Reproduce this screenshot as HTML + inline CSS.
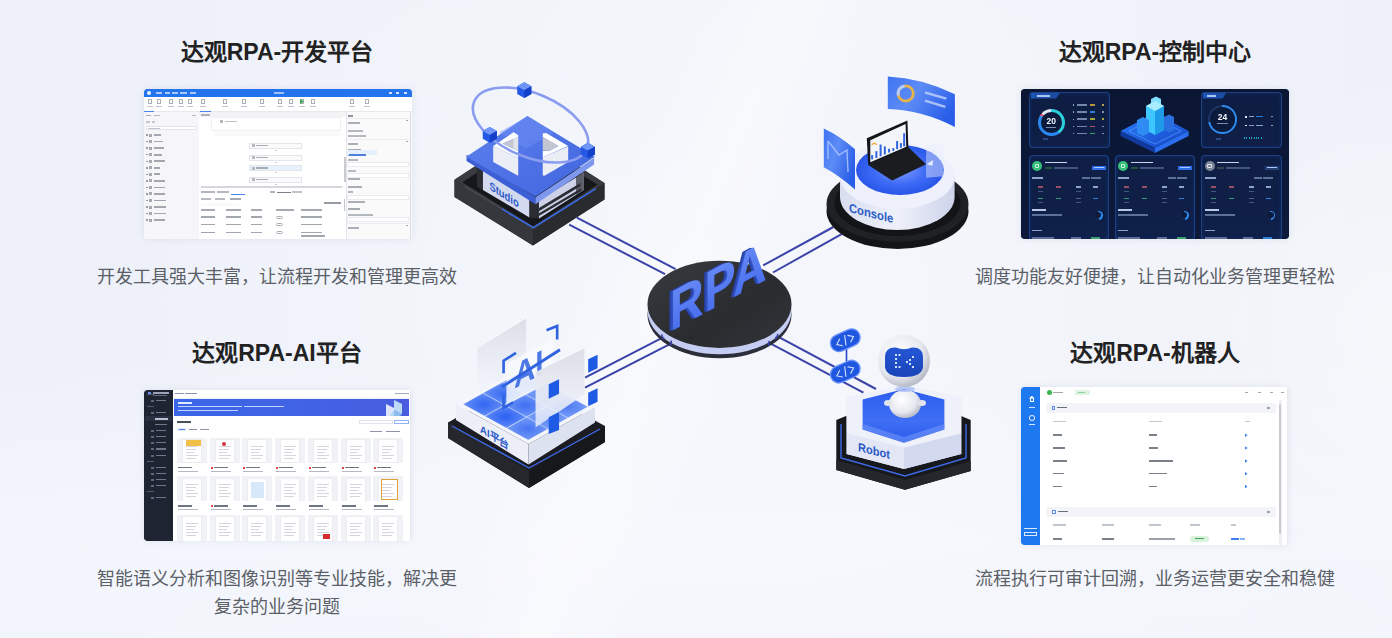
<!DOCTYPE html>
<html lang="zh-CN">
<head>
<meta charset="utf-8">
<style>
*{margin:0;padding:0;box-sizing:border-box}
html,body{width:1392px;height:638px;overflow:hidden}
body{position:relative;font-family:"Liberation Sans",sans-serif;background:#eff2f9}
.bg{position:absolute;left:0;top:0;width:1392px;height:638px;
 background:
  radial-gradient(ellipse 650px 420px at 720px 300px, rgba(255,255,255,0.25), rgba(255,255,255,0) 100%),
  radial-gradient(ellipse 220px 260px at 1392px 330px, rgba(255,255,255,0.45), rgba(255,255,255,0) 100%),
  linear-gradient(112deg, rgba(255,255,255,0) 42%, rgba(255,255,255,0.38) 48%, rgba(255,255,255,0) 54%),
  linear-gradient(180deg, rgba(246,248,254,0) 0%, rgba(246,248,254,0) 55%, rgba(246,248,254,0.7) 85%, rgba(246,248,254,0.6) 100%),
  linear-gradient(90deg,#edf0f8 0%,#f1f4fa 45%,#f2f4fb 70%,#eef1f8 100%)}
.t{position:absolute;font-size:23px;font-weight:900;color:#222;white-space:nowrap;text-align:center;line-height:30px}
.s{position:absolute;font-size:18px;color:#5b5f67;white-space:nowrap;text-align:center;line-height:28px}
.shot{position:absolute;overflow:hidden;box-shadow:0 0 6px rgba(60,80,130,0.10);filter:blur(0.35px)}
.shot i,.shot b{position:absolute;display:block;font-style:normal}
.shot b{font-family:"Liberation Sans",sans-serif;font-weight:bold;line-height:1}
svg{position:absolute;left:0;top:0}
</style>
</head>
<body>
<div class="bg"></div>
<svg width="1392" height="638" viewBox="0 0 1392 638">
<defs>
  <linearGradient id="gDisc" x1="0" y1="0" x2="1" y2="1">
    <stop offset="0" stop-color="#3a3b40"/><stop offset="0.6" stop-color="#2a2b2f"/><stop offset="1" stop-color="#34353a"/>
  </linearGradient>
  <linearGradient id="gRPA" x1="0" y1="0" x2="0" y2="1">
    <stop offset="0" stop-color="#6d8ff8"/><stop offset="1" stop-color="#4068ec"/>
  </linearGradient>
  <linearGradient id="gSlabTop" x1="0" y1="0" x2="1" y2="1">
    <stop offset="0" stop-color="#5f82f0"/><stop offset="1" stop-color="#3f63dc"/>
  </linearGradient>
  <radialGradient id="gPool" cx="0.5" cy="0.5" r="0.5">
    <stop offset="0" stop-color="#7c9cff"/><stop offset="0.6" stop-color="#3d6af5"/><stop offset="1" stop-color="#2a56e8"/>
  </radialGradient>
  <linearGradient id="gCyl" x1="0" y1="0" x2="1" y2="0">
    <stop offset="0" stop-color="#d9def0"/><stop offset="0.5" stop-color="#eef1fa"/><stop offset="1" stop-color="#cdd3ea"/>
  </linearGradient>
  <linearGradient id="gCard" x1="0" y1="0" x2="1" y2="0.6">
    <stop offset="0" stop-color="#3f73f2"/><stop offset="0.45" stop-color="#5d8cf6"/><stop offset="1" stop-color="#2a5ee8"/>
  </linearGradient>
  <radialGradient id="gHead" cx="0.4" cy="0.35" r="0.65">
    <stop offset="0" stop-color="#ffffff"/><stop offset="0.7" stop-color="#e6e8ef"/><stop offset="1" stop-color="#b9bdc9"/>
  </radialGradient>
  <linearGradient id="gPanel" x1="0" y1="0" x2="0" y2="1">
    <stop offset="0" stop-color="#dcdee6" stop-opacity="0.97"/><stop offset="0.6" stop-color="#eaedf5" stop-opacity="0.93"/><stop offset="1" stop-color="#f2f5fc" stop-opacity="0.75"/>
  </linearGradient>
  <radialGradient id="gTile" cx="0.5" cy="0.5" r="0.7">
    <stop offset="0" stop-color="#2a5ff2"/><stop offset="0.6" stop-color="#5683f5"/><stop offset="1" stop-color="#a4bcf8"/>
  </radialGradient>
  <g id="cube">
   <polygon points="-45,-25 0,-50 45,-25 45,25 0,50 -45,25" fill="#2459e6"/>
   <polygon points="-45,-25 0,-50 45,-25 0,0" fill="#6f95f7"/>
   <polygon points="0,0 45,-25 45,25 0,50" fill="#1440c8"/>
  </g>
  <linearGradient id="gHexPool" x1="0" y1="0" x2="0" y2="1">
    <stop offset="0" stop-color="#2c5df0"/><stop offset="0.6" stop-color="#3f6ff5"/><stop offset="1" stop-color="#2a5ae8"/>
  </linearGradient>
  <linearGradient id="gVisor" x1="0" y1="0" x2="0" y2="1">
    <stop offset="0" stop-color="#2456d6"/><stop offset="1" stop-color="#1a45b8"/>
  </linearGradient>
</defs>

<!-- connection lines -->
<g stroke="#3b42a8" stroke-width="2" fill="none">
  <line x1="576.9" y1="217.6" x2="675.7" y2="269.2"/>
  <line x1="569.2" y1="224.7" x2="665.1" y2="274.1"/>
  <line x1="763.2" y1="265.4" x2="833.4" y2="227"/>
  <line x1="773" y1="272.5" x2="841.6" y2="234.1"/>
  <line x1="585" y1="377.7" x2="661.6" y2="338.2"/>
  <line x1="585" y1="387.7" x2="670.3" y2="343.8"/>
  <line x1="777.5" y1="336.3" x2="876" y2="389"/>
  <line x1="768.8" y1="342.6" x2="863.4" y2="392.7"/>
</g>

<!-- ===== RPA disc ===== -->
<g>
  <ellipse cx="719.5" cy="314.7" rx="72" ry="43.6" fill="#2b2d38"/>
  <ellipse cx="719.5" cy="310.7" rx="72" ry="43.6" fill="#c6cdf2"/>
  <ellipse cx="719.5" cy="304.3" rx="72" ry="43.6" fill="url(#gDisc)"/>
  <g stroke="#3b42a8" stroke-width="1.6" fill="none">
    <path d="M661.5,334.5 q1,4 3,4.5"/><path d="M671,340.5 q1,3 -1,5"/>
    <path d="M769.5,341 q-2,3 0,5"/><path d="M778,334 q-1,4 -3,4.5"/>
  </g>
  <g transform="translate(670,332) skewY(-28.5)">
    <g font-family="Liberation Sans" font-weight="bold" font-size="57" letter-spacing="1">
    <text x="-4.5" y="-1.5" fill="#263f9e" transform="scale(0.82,1)">RPA</text>
    <text x="-3.5" y="-1" fill="#2b46ad" transform="scale(0.82,1)">RPA</text>
    <text x="-2" y="-0.5" fill="#3251c0" transform="scale(0.82,1)">RPA</text>
    <text x="0" y="0" fill="url(#gRPA)" transform="scale(0.82,1)">RPA</text>
    </g>
  </g>
</g>

<!-- ===== Studio ===== -->
<g>
 <g transform="translate(445,140) scale(0.172414)">
  <polygon points="55,230 470,-40 925,250 925,345 510,612 55,330" fill="#333439"/>
  <polygon points="55,230 510,520 510,612 55,330" fill="#36373c"/>
  <polygon points="510,520 925,250 925,345 510,612" fill="#2a2b2f"/>
  <polygon points="55,230 470,-40 925,250 510,520" fill="#3a3b40"/>
  <polygon points="100,245 470,8 885,258 512,500" fill="#16171b"/>
  <polyline points="112,268 330,400" stroke="#5a5b62" stroke-width="4" fill="none"/>
  <polyline points="330,400 512,508 875,282" stroke="#3a6cf0" stroke-width="8" fill="none"/>
  <!-- body -->
  <polygon points="185,160 220,175 220,290 185,272" fill="#2b2d33"/>
  <polygon points="220,175 490,340 490,450 220,290" fill="#d3daf0"/>
  <polygon points="490,340 545,350 545,455 490,450" fill="#2a2c31"/>
  <polygon points="545,350 805,190 805,290 545,455" fill="#cdd2e8"/>
  <polygon points="545,395 785,250 785,268 545,413" fill="#2c2e35"/>
  <polygon points="545,425 790,280 790,296 545,441" fill="#2c2e35"/>
  <polygon points="760,215 805,190 805,290 760,318" fill="#2b2d33" opacity="0.7"/>
  <g transform="translate(258,285) skewY(33) scale(0.8,1)"><text x="0" y="0" font-family="Liberation Sans" font-weight="bold" font-size="68" fill="#2c58c8">Studio</text></g>
  <!-- slab -->
  <polygon points="125,85 525,332 525,372 125,122" fill="#3c5fd6"/>
  <polygon points="525,332 865,105 865,142 525,372" fill="#7e98f0"/>
 </g>
 <g transform="translate(460,80) scale(0.156789)">
  <polygon points="430,230 860,490 481,745 40,490" fill="url(#gSlabTop)"/>
  <polygon points="430,230 600,335 420,440 250,335" fill="#6b8df5" opacity="0.5"/>
 </g>
 <g transform="translate(485,125) scale(0.086207)">
  <!-- left block -->
  <polygon points="95,245 385,380 385,590 95,430" fill="#eceef6"/>
  <polygon points="95,245 330,85 385,118 385,135 205,215 290,255 385,298 385,380" fill="#ffffff"/>
  <polygon points="205,215 385,135 385,298 290,255" fill="#c3c5d1"/>
  <polygon points="330,85 385,118 385,300 330,270" fill="#f5f6fa" opacity="0.6"/>
  <!-- right block -->
  <polygon points="670,375 965,250 965,430 690,590 670,585" fill="#eceef6"/>
  <polygon points="670,100 710,92 965,245 670,375 670,300 745,300 850,245 670,140" fill="#ffffff"/>
  <polygon points="670,140 850,242 742,300 670,292" fill="#c3c5d1"/>
 </g>
 <!-- ring -->
 <ellipse cx="530.5" cy="125" rx="61" ry="31.7" transform="rotate(22.7 530.5 125)" fill="none" stroke="#8a9cf0" stroke-width="2.6"/>
 <use href="#cube" transform="translate(524.3,90.2) scale(0.156789)" x="0" y="0"/>
 <use href="#cube" transform="translate(489.8,134.9) scale(0.156789)"/>
 <use href="#cube" transform="translate(587.8,150.6) scale(0.156789)"/>
</g>

<!-- ===== Console ===== -->
<g>
  <ellipse cx="897.5" cy="211" rx="71" ry="38" fill="#141518"/>
  <ellipse cx="897.5" cy="204" rx="71" ry="38" fill="#202125"/>
  <ellipse cx="897.5" cy="203" rx="63" ry="33" fill="#131417"/>
  <!-- white cylinder -->
  <path d="M840,176 L840,197 A57.3,33 0 0 0 954.6,197 L954.6,176 Z" fill="url(#gCyl)"/>
  <ellipse cx="897.3" cy="176" rx="57.3" ry="33" fill="#eef1fb"/>
  <ellipse cx="900" cy="170" rx="44" ry="25" fill="url(#gPool)"/>
  <g transform="translate(849,212) skewY(14) scale(0.9,1)"><text x="0" y="0" font-family="Liberation Sans" font-weight="bold" font-size="12.5" fill="#2a5cc8">Console</text></g>
  <g transform="translate(840,110) scale(0.141004)">
    <polygon points="200,390 485,265 610,385 370,500" fill="#1b1c1f"/>
    <polygon points="190,200 478,75 485,270 200,390" fill="#141518"/>
    <polygon points="215,215 465,100 470,260 215,370" fill="#f3f5fa"/>
    <g stroke="#2f63e0" stroke-width="14">
      <line x1="228" y1="350" x2="228" y2="320"/><line x1="258" y1="340" x2="258" y2="292"/>
      <line x1="288" y1="328" x2="288" y2="245"/><line x1="318" y1="315" x2="318" y2="258"/>
      <line x1="348" y1="302" x2="348" y2="275"/><line x1="378" y1="290" x2="378" y2="270"/>
      <line x1="405" y1="278" x2="405" y2="220"/><line x1="432" y1="268" x2="432" y2="235"/>
      <line x1="455" y1="258" x2="455" y2="165"/>
    </g>
    <path d="M225,248 q20,-25 35,0" stroke="#f0b23c" stroke-width="10" fill="none"/>
    <polygon points="610,250 735,230 735,470 610,480" fill="#e8eefc" opacity="0.45"/>
    <polygon points="615,385 660,355 655,395" fill="#ffffff" opacity="0.8"/>
  </g>
  <!-- left card -->
  <path d="M823.8,128.5 Q840,136 855,149.3 L855,189.5 Q840,176 823.8,167.2 Z" fill="url(#gCard)"/>
  <path d="M828,141 L828,159 M828,141 L839,155 L847,150 L848,172" stroke="#a8c2ff" stroke-width="1.4" fill="none" opacity="0.9"/>
  <!-- top-right card -->
  <path d="M887.8,76.4 Q922,78 954.9,94.2 L954.9,127 Q922,110 887.8,109 Z" fill="url(#gCard)"/>
  <circle cx="905.7" cy="93.5" r="7.6" fill="none" stroke="#e8b447" stroke-width="2.8"/>
  <path d="M898.3,95.5 A7.6,7.6 0 0 1 904.5,86" stroke="#b9cdfd" stroke-width="2.8" fill="none"/>
  <g stroke="#a9c1fb" stroke-width="2.4">
    <line x1="925" y1="92.5" x2="946.4" y2="98.6"/><line x1="925" y1="100.7" x2="945.4" y2="106.8"/>
  </g>
</g>
</g>

<!-- ===== AI platform ===== -->
<g>
  <polygon points="448,422.4 522,381 605,426 605,442 529,488 448,438" fill="#1c1d22"/>
  <polygon points="448,422.4 529,471 529,488 448,438" fill="#26272c"/>
  <polygon points="529,471 605,426 605,442 529,488" fill="#17181c"/>
  <polyline points="452,426 529,468 600,429" stroke="#3f6ae8" stroke-width="1.4" fill="none"/>
  <!-- white slab -->
  <polygon points="456,404 528.5,444 528.5,464.5 456,420" fill="#eceff8"/>
  <polygon points="528.5,444 595,407 595,422.5 528.5,464.5" fill="#dde2f1"/>
  <polygon points="456,404 522.5,367 595,407 528.5,444" fill="#f4f6fc"/>
  <g transform="translate(480,432) skewY(31) scale(0.92,1)"><text x="0" y="0" font-family="Liberation Sans" font-weight="bold" font-size="10.5" fill="#2a58c8">AI平台</text></g>
  <g transform="translate(450,310) scale(0.188005)">
    <polygon points="69,501 416,692 734,515 387,324" fill="#bccff9"/>
    <polygon points="73,501 184,562 286,505 175,444" fill="url(#gTile)" opacity="0.95"/>
    <polygon points="179,442 290,503 392,446 281,385" fill="url(#gTile)" opacity="0.9"/>
    <polygon points="286,383 397,444 498,387 387,326" fill="url(#gTile)" opacity="0.6"/>
    <polygon points="189,565 300,626 402,569 291,508" fill="url(#gTile)" opacity="1.0"/>
    <polygon points="295,506 406,567 508,510 397,449" fill="url(#gTile)" opacity="0.85"/>
    <polygon points="401,447 512,508 614,451 503,390" fill="url(#gTile)" opacity="0.7"/>
    <polygon points="305,629 416,690 518,633 407,572" fill="url(#gTile)" opacity="0.8"/>
    <polygon points="411,569 522,631 624,574 513,513" fill="url(#gTile)" opacity="0.7"/>
    <polygon points="517,510 628,572 730,515 619,454" fill="url(#gTile)" opacity="0.75"/>
    <!-- back-left panel -->
    <polygon points="145,205 405,45 405,290 145,440" fill="url(#gPanel)"/>
    <!-- AI text panel -->
    <polygon points="300,285 550,150 550,375 300,505" fill="#f8f9fc" opacity="0.85"/>
    <g stroke="#2f63e0" stroke-width="14" fill="none" stroke-linecap="square">
      <polyline points="285,330 285,270 345,232"/>
      <polyline points="520,105 570,85 570,150"/>
      <polyline points="285,455 285,520 330,495"/>
    </g>
    <g transform="translate(340,420) skewY(-28) scale(0.85,1)"><text x="0" y="0" font-family="Liberation Sans" font-weight="bold" font-size="185" fill="#2f63e0" opacity="0.85">AI</text></g>
    <line x1="275" y1="410" x2="585" y2="212" stroke="#2f63e0" stroke-width="16"/>
    <!-- front-right panel -->
    <polygon points="455,330 715,205 715,450 455,625" fill="url(#gPanel)"/>
    <g fill="#1f5ae4">
      <polygon points="525,395 580,368 580,445 525,472"/>
      <polygon points="525,570 580,543 580,638 525,660"/>
      <polygon points="735,262 785,238 785,310 735,334"/>
      <polygon points="735,440 785,416 785,488 735,512"/>
    </g>
  </g>
</g>

<!-- ===== Robot ===== -->
<g>
  <polygon points="836.3,420.1 904,392 970.7,420.1 970.7,470.9 904.9,489.7 836.3,470" fill="#17181c"/>
  <polygon points="836.3,460 904.9,480 970.7,461 970.7,470.9 904.9,489.7 836.3,470" fill="#25262b"/>
  <polyline points="841,424 841,458 905,476 966,458 966,424" stroke="#3f6ae8" stroke-width="1.4" fill="none"/>
  <!-- white hex prism -->
  <polygon points="846.6,397.6 904,385.3 961.3,397.6 961.3,454 904,469 846.6,454" fill="#e3e7f5"/>
  <polygon points="846.6,433.3 904,447.4 904,469 846.6,454" fill="#e3e7f5"/>
  <polygon points="904,447.4 961.3,433.3 961.3,454 904,469" fill="#d3d9ee"/>
  <polygon points="846.6,397.6 904,385.3 961.3,397.6 961.3,433.3 904,447.4 846.6,433.3" fill="#eef1fa"/>
  <polygon points="862.6,399.4 904,389 944.4,399.4 944.4,429.5 904,442.7 862.6,429.5" fill="url(#gHexPool)"/>
  <polygon points="862.6,424 904,437 944.4,424 944.4,429.5 904,442.7 862.6,429.5" fill="#6f95fa" opacity="0.6"/>
  <g transform="translate(858,451) skewY(14) scale(0.92,1)"><text x="0" y="0" font-family="Liberation Sans" font-weight="bold" font-size="12" fill="#2a58c8">Robot</text></g>
  <!-- robot -->
  <ellipse cx="905" cy="404" rx="16" ry="14" fill="url(#gHead)"/>
  <ellipse cx="888" cy="403" rx="4" ry="3" fill="#e2e4ec"/>
  <ellipse cx="922" cy="403" rx="4" ry="3" fill="#e2e4ec"/>
  <ellipse cx="905" cy="389" rx="10" ry="3" fill="#9fb6f5" opacity="0.7"/>
  <circle cx="904" cy="361" r="26" fill="url(#gHead)"/>
  <path d="M885,357 Q885,347 896,347.5 Q904,351 912,347.5 Q923,347 923,357 L923,367 Q922,377 904,377 Q886,377 885,367 Z" fill="url(#gVisor)"/>
  <g fill="#cfe0ff">
    <rect x="895" y="354" width="2" height="2"/><rect x="895" y="358" width="2" height="2"/><rect x="895" y="362" width="2" height="2"/><rect x="895" y="366" width="2" height="2"/>
    <rect x="898.5" y="354" width="2" height="2"/><rect x="898.5" y="366" width="2" height="2"/>
    <rect x="912" y="356" width="2" height="2"/><rect x="909" y="359" width="2" height="2"/><rect x="906" y="361" width="2" height="2"/><rect x="909" y="363" width="2" height="2"/><rect x="912" y="366" width="2" height="2"/>
  </g>
  <!-- code pills -->
  <line x1="846.5" y1="348" x2="846.5" y2="364" stroke="#2348c8" stroke-width="1.6"/>
  <g transform="translate(845.3,340.2) rotate(-24)">
    <rect x="-15.5" y="-8.5" width="31" height="17" rx="8.5" fill="#1f57e0" stroke="#6f97fb" stroke-width="1.3"/>
    <path d="M-4.5,-3.5 L-9.5,0.5 L-4.5,4 M1.5,-5 L-1.5,5 M4,-3.5 L9,0 L4,4" stroke="#d6e2ff" stroke-width="1.1" fill="none"/>
  </g>
  <g transform="translate(845.3,371.6) rotate(-24)">
    <rect x="-15.5" y="-8.5" width="31" height="17" rx="8.5" fill="#1f57e0" stroke="#6f97fb" stroke-width="1.3"/>
    <path d="M-4.5,-3.5 L-9.5,0.5 L-4.5,4 M1.5,-5 L-1.5,5 M4,-3.5 L9,0 L4,4" stroke="#d6e2ff" stroke-width="1.1" fill="none"/>
  </g>
</g>
</svg>

<div class="t" style="left:177px;top:37px;width:200px">达观RPA-开发平台</div>
<div class="t" style="left:1055px;top:37px;width:200px">达观RPA-控制中心</div>
<div class="t" style="left:177px;top:338px;width:200px">达观RPA-AI平台</div>
<div class="t" style="left:1055px;top:338px;width:200px">达观RPA-机器人</div>
<div class="s" style="left:77px;top:263px;width:400px">开发工具强大丰富，让流程开发和管理更高效</div>
<div class="s" style="left:955px;top:263px;width:400px">调度功能友好便捷，让自动化业务管理更轻松</div>
<div class="s" style="left:77px;top:565px;width:400px">智能语义分析和图像识别等专业技能，解决更<br>复杂的业务问题</div>
<div class="s" style="left:955px;top:565px;width:400px">流程执行可审计回溯，业务运营更安全和稳健</div>

<div class="shot" style="left:144px;top:89px;width:268px;height:150px;border-radius:3px 3px 0 0"><i style="left:0px;top:0px;width:268px;height:7.5px;background:#2273ec;border-radius:3px 3px 0 0"></i><i style="left:3px;top:1.5px;width:4px;height:4px;background:#e8f0ff;border-radius:50%"></i><i style="left:12px;top:2.5px;width:6px;height:2px;background:#a9c8fa;"></i><i style="left:21px;top:2.5px;width:5px;height:2px;background:#a9c8fa;"></i><i style="left:28px;top:2.5px;width:6px;height:2px;background:#a9c8fa;"></i><i style="left:36px;top:2.5px;width:7px;height:2px;background:#a9c8fa;"></i><i style="left:46px;top:2.5px;width:6px;height:2px;background:#a9c8fa;"></i><i style="left:130px;top:2.5px;width:10px;height:2px;background:#9cc0f8;"></i><i style="left:245px;top:3px;width:3px;height:1.5px;background:#cfe0fd;"></i><i style="left:252px;top:3px;width:3px;height:1.5px;background:#cfe0fd;"></i><i style="left:260px;top:3px;width:3px;height:1.5px;background:#cfe0fd;"></i><i style="left:0px;top:7.5px;width:268px;height:14.5px;background:#ffffff;"></i><i style="left:3.5px;top:10px;width:4px;height:5px;background:transparent;border:0.8px solid #a9aeb8;border-radius:0.5px"></i><i style="left:2.5px;top:17px;width:6px;height:1.3px;background:#c0c4ca;"></i><i style="left:12.5px;top:10px;width:4px;height:5px;background:transparent;border:0.8px solid #a9aeb8;border-radius:0.5px"></i><i style="left:11.5px;top:17px;width:6px;height:1.3px;background:#c0c4ca;"></i><i style="left:24.5px;top:10px;width:4px;height:5px;background:transparent;border:0.8px solid #a9aeb8;border-radius:0.5px"></i><i style="left:23.5px;top:17px;width:6px;height:1.3px;background:#c0c4ca;"></i><i style="left:34.5px;top:10px;width:4px;height:5px;background:transparent;border:0.8px solid #a9aeb8;border-radius:0.5px"></i><i style="left:33.5px;top:17px;width:6px;height:1.3px;background:#c0c4ca;"></i><i style="left:43.5px;top:10px;width:4px;height:5px;background:transparent;border:0.8px solid #a9aeb8;border-radius:0.5px"></i><i style="left:42.5px;top:17px;width:6px;height:1.3px;background:#c0c4ca;"></i><i style="left:56.5px;top:10px;width:4px;height:5px;background:transparent;border:0.8px solid #a9aeb8;border-radius:0.5px"></i><i style="left:55.5px;top:17px;width:6px;height:1.3px;background:#c0c4ca;"></i><i style="left:78.5px;top:10px;width:4px;height:5px;background:transparent;border:0.8px solid #a9aeb8;border-radius:0.5px"></i><i style="left:77.5px;top:17px;width:6px;height:1.3px;background:#c0c4ca;"></i><i style="left:97.5px;top:10px;width:4px;height:5px;background:transparent;border:0.8px solid #a9aeb8;border-radius:0.5px"></i><i style="left:96.5px;top:17px;width:6px;height:1.3px;background:#c0c4ca;"></i><i style="left:115.5px;top:10px;width:4px;height:5px;background:transparent;border:0.8px solid #a9aeb8;border-radius:0.5px"></i><i style="left:114.5px;top:17px;width:6px;height:1.3px;background:#c0c4ca;"></i><i style="left:133.5px;top:10px;width:4px;height:5px;background:transparent;border:0.8px solid #a9aeb8;border-radius:0.5px"></i><i style="left:132.5px;top:17px;width:6px;height:1.3px;background:#c0c4ca;"></i><i style="left:144.5px;top:10px;width:4px;height:5px;background:transparent;border:0.8px solid #a9aeb8;border-radius:0.5px"></i><i style="left:143.5px;top:17px;width:6px;height:1.3px;background:#c0c4ca;"></i><i style="left:155.5px;top:10px;width:4px;height:5px;background:transparent;border:0.8px solid #a9aeb8;border-radius:0.5px"></i><i style="left:154.5px;top:17px;width:6px;height:1.3px;background:#c0c4ca;"></i><i style="left:166.5px;top:10px;width:4px;height:5px;background:transparent;border:0.8px solid #a9aeb8;border-radius:0.5px"></i><i style="left:165.5px;top:17px;width:6px;height:1.3px;background:#c0c4ca;"></i><i style="left:205.5px;top:10px;width:4px;height:5px;background:transparent;border:0.8px solid #a9aeb8;border-radius:0.5px"></i><i style="left:204.5px;top:17px;width:6px;height:1.3px;background:#c0c4ca;"></i><i style="left:220.5px;top:10px;width:4px;height:5px;background:transparent;border:0.8px solid #a9aeb8;border-radius:0.5px"></i><i style="left:219.5px;top:17px;width:6px;height:1.3px;background:#c0c4ca;"></i><i style="left:156px;top:10px;width:4px;height:5px;background:#3aa757;clip-path:polygon(0 0,100% 50%,0 100%)"></i><i style="left:0px;top:22px;width:268px;height:1px;background:#e8e9ee;"></i><i style="left:0px;top:22px;width:10px;height:1px;background:#4b84e8;"></i><i style="left:56px;top:22px;width:11px;height:1px;background:#4b84e8;"></i><i style="left:0px;top:23px;width:55px;height:127px;background:#f6f6f8;"></i><i style="left:2px;top:25.5px;width:5px;height:1.6px;background:#a4a8b0;"></i><i style="left:10px;top:25.5px;width:6px;height:1.6px;background:#b5b9c1;"></i><i style="left:48px;top:25.5px;width:4px;height:1px;background:#b5b9c1;"></i><i style="left:2px;top:31.5px;width:4px;height:2px;background:#c5c8ce;"></i><i style="left:8px;top:31.5px;width:3px;height:2px;background:#c5c8ce;"></i><i style="left:2px;top:37px;width:50px;height:4px;background:#ffffff;border:0.5px solid #e5e6ea"></i><i style="left:4px;top:38.5px;width:12px;height:1.4px;background:#c2c5cc;"></i><i style="left:2px;top:45.3px;width:1.5px;height:1.5px;background:#9a9ea6;"></i><i style="left:5px;top:44.5px;width:3px;height:3px;background:#a5a9b0;"></i><i style="left:10px;top:45.1px;width:7px;height:1.8px;background:#a2a6ae;"></i><i style="left:2px;top:51.849999999999994px;width:1.5px;height:1.5px;background:#9a9ea6;"></i><i style="left:5px;top:51.05px;width:3px;height:3px;background:#a5a9b0;"></i><i style="left:10px;top:51.65px;width:9px;height:1.8px;background:#a2a6ae;"></i><i style="left:2px;top:58.4px;width:1.5px;height:1.5px;background:#9a9ea6;"></i><i style="left:5px;top:57.6px;width:3px;height:3px;background:#a5a9b0;"></i><i style="left:10px;top:58.2px;width:10px;height:1.8px;background:#a2a6ae;"></i><i style="left:2px;top:64.95px;width:1.5px;height:1.5px;background:#9a9ea6;"></i><i style="left:5px;top:64.15px;width:3px;height:3px;background:#a5a9b0;"></i><i style="left:10px;top:64.75px;width:8px;height:1.8px;background:#a2a6ae;"></i><i style="left:2px;top:71.5px;width:1.5px;height:1.5px;background:#9a9ea6;"></i><i style="left:5px;top:70.7px;width:3px;height:3px;background:#a5a9b0;"></i><i style="left:10px;top:71.3px;width:11px;height:1.8px;background:#a2a6ae;"></i><i style="left:2px;top:78.05px;width:1.5px;height:1.5px;background:#9a9ea6;"></i><i style="left:5px;top:77.25px;width:3px;height:3px;background:#a5a9b0;"></i><i style="left:10px;top:77.85px;width:6px;height:1.8px;background:#a2a6ae;"></i><i style="left:2px;top:84.6px;width:1.5px;height:1.5px;background:#9a9ea6;"></i><i style="left:5px;top:83.8px;width:3px;height:3px;background:#a5a9b0;"></i><i style="left:10px;top:84.39999999999999px;width:6px;height:1.8px;background:#a2a6ae;"></i><i style="left:2px;top:91.14999999999999px;width:1.5px;height:1.5px;background:#9a9ea6;"></i><i style="left:5px;top:90.35px;width:3px;height:3px;background:#a5a9b0;"></i><i style="left:10px;top:90.94999999999999px;width:11px;height:1.8px;background:#a2a6ae;"></i><i style="left:2px;top:97.7px;width:1.5px;height:1.5px;background:#9a9ea6;"></i><i style="left:5px;top:96.9px;width:3px;height:3px;background:#a5a9b0;"></i><i style="left:10px;top:97.5px;width:11px;height:1.8px;background:#a2a6ae;"></i><i style="left:2px;top:104.24999999999999px;width:1.5px;height:1.5px;background:#9a9ea6;"></i><i style="left:5px;top:103.44999999999999px;width:3px;height:3px;background:#a5a9b0;"></i><i style="left:10px;top:104.04999999999998px;width:11px;height:1.8px;background:#a2a6ae;"></i><i style="left:2px;top:110.8px;width:1.5px;height:1.5px;background:#9a9ea6;"></i><i style="left:5px;top:110.0px;width:3px;height:3px;background:#a5a9b0;"></i><i style="left:10px;top:110.6px;width:12px;height:1.8px;background:#a2a6ae;"></i><i style="left:2px;top:117.35px;width:1.5px;height:1.5px;background:#9a9ea6;"></i><i style="left:5px;top:116.55px;width:3px;height:3px;background:#a5a9b0;"></i><i style="left:10px;top:117.14999999999999px;width:12px;height:1.8px;background:#a2a6ae;"></i><i style="left:2px;top:123.89999999999999px;width:1.5px;height:1.5px;background:#9a9ea6;"></i><i style="left:5px;top:123.1px;width:3px;height:3px;background:#a5a9b0;"></i><i style="left:10px;top:123.69999999999999px;width:12px;height:1.8px;background:#a2a6ae;"></i><i style="left:2px;top:130.45px;width:1.5px;height:1.5px;background:#9a9ea6;"></i><i style="left:5px;top:129.64999999999998px;width:3px;height:3px;background:#a5a9b0;"></i><i style="left:10px;top:130.24999999999997px;width:11px;height:1.8px;background:#a2a6ae;"></i><i style="left:55px;top:23px;width:147px;height:75px;background:#ffffff;"></i><i style="left:55px;top:23px;width:147px;height:5px;background:#f3f3f5;"></i><i style="left:57px;top:24.5px;width:9px;height:2px;background:#b0b4ba;"></i><i style="left:67px;top:28px;width:130px;height:14px;background:#ffffff;border:0.5px solid #f0f0f3"></i><i style="left:70px;top:42px;width:126px;height:5px;background:#fafafb;"></i><i style="left:76px;top:31px;width:3px;height:3px;background:#b4b8be;"></i><i style="left:81px;top:31.6px;width:12px;height:1.8px;background:#bcc0c6;"></i><i style="left:105px;top:53.5px;width:53px;height:6px;background:#fafafa;border:0.5px solid #e3e5ea"></i><i style="left:107.5px;top:55.1px;width:3px;height:3px;background:#b4b8be;"></i><i style="left:112px;top:55.7px;width:12px;height:1.6px;background:#a9adb4;"></i><i style="left:130.5px;top:60.5px;width:2px;height:1px;background:#c8cbd2;"></i><i style="left:105px;top:65.5px;width:53px;height:6px;background:#fafafa;border:0.5px solid #e3e5ea"></i><i style="left:107.5px;top:67.1px;width:3px;height:3px;background:#b4b8be;"></i><i style="left:112px;top:67.7px;width:12px;height:1.6px;background:#a9adb4;"></i><i style="left:130.5px;top:72.5px;width:2px;height:1px;background:#c8cbd2;"></i><i style="left:105px;top:76px;width:53px;height:6px;background:#e6f1fc;border:0.5px solid #e3e5ea"></i><i style="left:107.5px;top:77.6px;width:3px;height:3px;background:#b4b8be;"></i><i style="left:112px;top:78.2px;width:12px;height:1.6px;background:#a9adb4;"></i><i style="left:130.5px;top:83px;width:2px;height:1px;background:#c8cbd2;"></i><i style="left:105px;top:87.5px;width:53px;height:6px;background:#fafafa;border:0.5px solid #e3e5ea"></i><i style="left:107.5px;top:89.1px;width:3px;height:3px;background:#b4b8be;"></i><i style="left:112px;top:89.7px;width:12px;height:1.6px;background:#a9adb4;"></i><i style="left:130.5px;top:94.5px;width:2px;height:1px;background:#c8cbd2;"></i><i style="left:200px;top:68px;width:2px;height:25px;background:#c9cbd1;"></i><i style="left:57px;top:97px;width:141px;height:2px;background:#d5d7dc;"></i><i style="left:55px;top:99px;width:147px;height:51px;background:#ffffff;"></i><i style="left:57px;top:102px;width:14px;height:1.6px;background:#b4b8be;"></i><i style="left:73px;top:102px;width:12px;height:1.6px;background:#b4b8be;"></i><i style="left:87px;top:104.5px;width:14px;height:0.8px;background:#4b84e8;"></i><i style="left:126px;top:102px;width:5px;height:2px;background:#b0b4bb;"></i><i style="left:133px;top:102.5px;width:14px;height:1px;background:#7d8189;"></i><i style="left:148px;top:102px;width:10px;height:1.6px;background:#c0c3c9;"></i><i style="left:57px;top:109px;width:10px;height:1.6px;background:#b7bbc2;"></i><i style="left:71px;top:109px;width:10px;height:1.6px;background:#b7bbc2;"></i><i style="left:86px;top:109px;width:11px;height:1.6px;background:#a5a9b0;"></i><i style="left:57px;top:114px;width:38px;height:2.5px;background:#fafafa;"></i><i style="left:180px;top:113px;width:17px;height:1.8px;background:#979ba3;"></i><i style="left:57px;top:120px;width:14px;height:1.8px;background:#a6aab1;"></i><i style="left:82px;top:120px;width:15px;height:1.8px;background:#a6aab1;"></i><i style="left:107px;top:120px;width:11px;height:1.8px;background:#a6aab1;"></i><i style="left:132px;top:120px;width:18px;height:1.8px;background:#a6aab1;"></i><i style="left:157px;top:120px;width:21px;height:1.8px;background:#a6aab1;"></i><i style="left:57px;top:127px;width:14px;height:1.8px;background:#a2a6ad;"></i><i style="left:82px;top:127px;width:15px;height:1.8px;background:#a2a6ad;"></i><i style="left:107px;top:127px;width:11px;height:1.8px;background:#a2a6ad;"></i><i style="left:132px;top:126.5px;width:7px;height:3px;background:#ffffff;border:0.6px solid #aaaeb5;border-radius:2px"></i><i style="left:157px;top:127px;width:21px;height:1.8px;background:#a2a6ad;"></i><i style="left:57px;top:134.5px;width:14px;height:1.8px;background:#a2a6ad;"></i><i style="left:82px;top:134.5px;width:15px;height:1.8px;background:#a2a6ad;"></i><i style="left:107px;top:134.5px;width:11px;height:1.8px;background:#a2a6ad;"></i><i style="left:132px;top:134.0px;width:7px;height:3px;background:#ffffff;border:0.6px solid #aaaeb5;border-radius:2px"></i><i style="left:157px;top:134.5px;width:21px;height:1.8px;background:#a2a6ad;"></i><i style="left:57px;top:142.5px;width:14px;height:1.8px;background:#a2a6ad;"></i><i style="left:82px;top:142.5px;width:15px;height:1.8px;background:#a2a6ad;"></i><i style="left:107px;top:142.5px;width:11px;height:1.8px;background:#a2a6ad;"></i><i style="left:132px;top:142.0px;width:7px;height:3px;background:#ffffff;border:0.6px solid #aaaeb5;border-radius:2px"></i><i style="left:157px;top:142.5px;width:21px;height:1.8px;background:#a2a6ad;"></i><i style="left:157px;top:146px;width:24px;height:1.6px;background:#a2a6ad;"></i><i style="left:200px;top:110px;width:1px;height:12px;background:#c4c6cc;"></i><i style="left:202px;top:23px;width:66px;height:127px;background:#fafafb;"></i><i style="left:202px;top:23px;width:0.6px;height:127px;background:#e5e6ea;"></i><i style="left:204px;top:26px;width:5px;height:1.6px;background:#8f939b;"></i><i style="left:204px;top:33px;width:12px;height:1.6px;background:#aaaeb5;"></i><i style="left:204px;top:41px;width:15px;height:1.6px;background:#b4b8be;"></i><i style="left:204px;top:46px;width:18px;height:1.6px;background:#b4b8be;"></i><i style="left:204px;top:54px;width:10px;height:1.6px;background:#aaaeb5;"></i><i style="left:204px;top:60px;width:13px;height:1.6px;background:#a5a9b0;"></i><i style="left:204px;top:65px;width:17px;height:1.6px;background:#6c96e0;"></i><i style="left:204px;top:70px;width:10px;height:1.6px;background:#b4b8be;"></i><i style="left:204px;top:75px;width:14px;height:1.6px;background:#a9adb4;"></i><i style="left:204px;top:81px;width:8px;height:1.6px;background:#b5b9c0;"></i><i style="left:204px;top:89px;width:12px;height:1.6px;background:#aaaeb5;"></i><i style="left:204px;top:97px;width:14px;height:1.6px;background:#aaaeb5;"></i><i style="left:204px;top:102px;width:5px;height:1.6px;background:#b4b8be;"></i><i style="left:204px;top:112px;width:17px;height:1.6px;background:#aaaeb5;"></i><i style="left:204px;top:119px;width:12px;height:1.6px;background:#a5a9b0;"></i><i style="left:204px;top:125px;width:25px;height:1.6px;background:#b5b9c0;"></i><i style="left:204px;top:130px;width:4px;height:1.6px;background:#b5b9c0;"></i><i style="left:204px;top:138px;width:11px;height:1.6px;background:#aaaeb5;"></i><i style="left:203px;top:29px;width:64px;height:0.5px;background:#ececf0;"></i><i style="left:262px;top:31px;width:2px;height:1.2px;background:#a5a9b0;"></i><i style="left:203px;top:50px;width:64px;height:0.5px;background:#ececf0;"></i><i style="left:262px;top:52px;width:2px;height:1.2px;background:#a5a9b0;"></i><i style="left:203px;top:85px;width:64px;height:0.5px;background:#ececf0;"></i><i style="left:262px;top:87px;width:2px;height:1.2px;background:#a5a9b0;"></i><i style="left:203px;top:108px;width:64px;height:0.5px;background:#ececf0;"></i><i style="left:262px;top:110px;width:2px;height:1.2px;background:#a5a9b0;"></i><i style="left:203px;top:134px;width:64px;height:0.5px;background:#ececf0;"></i><i style="left:262px;top:136px;width:2px;height:1.2px;background:#a5a9b0;"></i><i style="left:203px;top:61px;width:30px;height:5px;background:#e6f0fd;"></i><i style="left:205px;top:65px;width:17px;height:1.8px;background:#4d7fdc;"></i><i style="left:203px;top:73px;width:62px;height:4.5px;background:#ffffff;border:0.4px solid #ececf0"></i><i style="left:203px;top:84px;width:62px;height:4.5px;background:#ffffff;border:0.4px solid #ececf0"></i><i style="left:203px;top:106px;width:62px;height:4.5px;background:#ffffff;border:0.4px solid #ececf0"></i><i style="left:203px;top:128px;width:62px;height:4.5px;background:#ffffff;border:0.4px solid #ececf0"></i><i style="left:266px;top:23px;width:1px;height:127px;background:#dcdde2;"></i></div>
<div class="shot" style="left:1021px;top:89px;width:268px;height:150px;border-radius:3px"><i style="left:0px;top:0px;width:268px;height:150px;background:linear-gradient(180deg,#0b1634,#0c1838 60%,#0d1a3c);border-radius:3px"></i><i style="left:8px;top:3px;width:81px;height:56px;background:rgba(22,50,110,0.25);border:0.7px solid rgba(40,100,200,0.5);border-radius:4px;box-shadow:inset 0 0 5px rgba(40,100,220,0.18)"></i><i style="left:180px;top:3px;width:81px;height:56px;background:rgba(22,50,110,0.25);border:0.7px solid rgba(40,100,200,0.5);border-radius:4px;box-shadow:inset 0 0 5px rgba(40,100,220,0.18)"></i><i style="left:10px;top:4px;width:29px;height:5.5px;background:linear-gradient(90deg,#1d56b8,#1a4aa0);clip-path:polygon(0 0,100% 0,86% 100%,0 100%)"></i><i style="left:16px;top:5.5px;width:13px;height:2.2px;background:#a9c4f0;"></i><i style="left:182px;top:4px;width:23px;height:5.5px;background:linear-gradient(90deg,#1d56b8,#1a4aa0);clip-path:polygon(0 0,100% 0,86% 100%,0 100%)"></i><i style="left:186px;top:5.5px;width:9px;height:2.2px;background:#a9c4f0;"></i><i style="left:16.5px;top:19.5px;width:27.5px;height:27.5px;background:conic-gradient(#2cd0dc 0 40%,#2a88f0 40% 84%,#e35d7d 84% 87%,#dfe7f7 87% 100%);border-radius:50%"></i><i style="left:20px;top:23px;width:20.5px;height:20.5px;background:#0c1a3c;border-radius:50%"></i><b style="left:16.5px;top:28px;width:27.5px;font-size:8.5px;color:#f2f5ff;text-align:center">20</b><i style="left:25px;top:37.5px;width:10px;height:1.6px;background:#7a8db3;"></i><i style="left:22px;top:48.5px;width:5px;height:2px;background:#2a4a84;"></i><i style="left:52px;top:15.2px;width:1.4px;height:1.4px;background:#8ea3c8;"></i><i style="left:55.5px;top:15.0px;width:10px;height:1.7px;background:#7587ad;"></i><i style="left:68.5px;top:15.0px;width:5px;height:1.7px;background:#b8943a;"></i><i style="left:80.5px;top:15.0px;width:2px;height:1.7px;background:#b8a24a;"></i><i style="left:52px;top:22.4px;width:1.4px;height:1.4px;background:#8ea3c8;"></i><i style="left:55.5px;top:22.2px;width:10px;height:1.7px;background:#7587ad;"></i><i style="left:68.5px;top:22.2px;width:5px;height:1.7px;background:#2a7fd8;"></i><i style="left:80.5px;top:22.2px;width:2px;height:1.7px;background:#7f93b8;"></i><i style="left:52px;top:29.599999999999998px;width:1.4px;height:1.4px;background:#8ea3c8;"></i><i style="left:55.5px;top:29.4px;width:10px;height:1.7px;background:#7587ad;"></i><i style="left:68.5px;top:29.4px;width:5px;height:1.7px;background:#a9a93a;"></i><i style="left:80.5px;top:29.4px;width:2px;height:1.7px;background:#a9a93a;"></i><i style="left:52px;top:36.800000000000004px;width:1.4px;height:1.4px;background:#8ea3c8;"></i><i style="left:55.5px;top:36.6px;width:10px;height:1.7px;background:#7587ad;"></i><i style="left:68.5px;top:36.6px;width:5px;height:1.7px;background:#b0506a;"></i><i style="left:80.5px;top:36.6px;width:2px;height:1.7px;background:#7f93b8;"></i><i style="left:52px;top:44.0px;width:1.4px;height:1.4px;background:#8ea3c8;"></i><i style="left:55.5px;top:43.8px;width:10px;height:1.7px;background:#7587ad;"></i><i style="left:68.5px;top:43.8px;width:5px;height:1.7px;background:#3aa070;"></i><i style="left:80.5px;top:43.8px;width:2px;height:1.7px;background:#7f93b8;"></i><i style="left:187px;top:16px;width:29px;height:29px;background:conic-gradient(#2d8cf0 0 72%,#1b3566 72% 100%);border-radius:50%"></i><i style="left:189.3px;top:18.3px;width:24.4px;height:24.4px;background:#0c1a3c;border-radius:50%"></i><b style="left:187px;top:23.5px;width:29px;font-size:8.5px;color:#f2f5ff;text-align:center">24</b><i style="left:196px;top:33.5px;width:11px;height:1.5px;background:#7a8db3;"></i><i style="left:224px;top:27.0px;width:1.5px;height:1.5px;background:#dfe8ff;"></i><i style="left:227.5px;top:26.8px;width:5px;height:1.7px;background:#8ea3c8;"></i><i style="left:235px;top:26.8px;width:7px;height:1.7px;background:#2a7fd8;"></i><i style="left:250px;top:26.8px;width:2px;height:1.7px;background:#8ea3c8;"></i><i style="left:224px;top:35.8px;width:1.5px;height:1.5px;background:#dfe8ff;"></i><i style="left:227.5px;top:35.599999999999994px;width:5px;height:1.7px;background:#8ea3c8;"></i><i style="left:235px;top:35.599999999999994px;width:7px;height:1.7px;background:#8ea3c8;"></i><i style="left:250px;top:35.599999999999994px;width:2px;height:1.7px;background:#8ea3c8;"></i><i style="left:223px;top:47.5px;width:19px;height:2px;background:repeating-linear-gradient(90deg,#1aa8c8 0 1px,transparent 1px 2.4px);"></i><i style="left:195px;top:48.5px;width:5px;height:2px;background:#2a4a84;"></i><svg style="position:absolute;left:0;top:0" width="268" height="150"><defs><linearGradient id="cbg" x1="0" y1="0" x2="1" y2="1"><stop offset="0" stop-color="#2a7cf7"/><stop offset="1" stop-color="#1547c8"/></linearGradient></defs><polygon points="99.6,42 134,24 167.6,42 134,59" fill="url(#cbg)"/><polygon points="99.6,42 134,59 134,64 99.6,47" fill="#123a9e"/><polygon points="134,59 167.6,42 167.6,47 134,64" fill="#2b6ff0"/><polygon points="108,42 134,28.5 160,42 134,55" fill="none" stroke="#5aa0ff" stroke-width="0.8" opacity="0.8"/><polygon points="125,17 134,12 143,17 143,41 134,46 125,41" fill="#3ec6ff"/><polygon points="134,22 143,17 143,41 134,46" fill="#1f9ae8"/><polygon points="130,10 135,7.5 140,10 140,18 135,20.5 130,18" fill="#7fe0ff"/><polygon points="116,31 122,28 128,31 128,44 122,47 116,44" fill="#2f8cf5"/><polygon points="143,28 148,25.5 153,28 153,41 148,43.5 143,41" fill="#2a6fe0"/><polygon points="125,17 134,12 143,17 134,22" fill="#a8ecff"/></svg><i style="left:7.5px;top:65.5px;width:80.5px;height:85px;background:rgba(22,50,110,0.25);border:0.7px solid rgba(40,100,200,0.5);border-radius:4px;box-shadow:inset 0 0 5px rgba(40,100,220,0.18)"></i><i style="left:11.0px;top:71.8px;width:10px;height:10px;background:#36c07a;border-radius:50%"></i><i style="left:13.8px;top:74.6px;width:4.4px;height:4.4px;background:transparent;border:0.8px solid rgba(255,255,255,0.8);border-radius:1px"></i><i style="left:23.5px;top:72.6px;width:22px;height:1.8px;background:#c9d5ef;"></i><i style="left:23.5px;top:77.6px;width:7px;height:2.6px;background:#21513f;"></i><i style="left:32.5px;top:78px;width:24px;height:1.6px;background:#42557c;"></i><i style="left:71.0px;top:76.5px;width:14px;height:4.2px;background:#2f6fe8;"></i><i style="left:73.0px;top:78px;width:10px;height:1.3px;background:#a9c6ff;"></i><i style="left:11.0px;top:88px;width:11px;height:1.8px;background:#8ea3c8;"></i><i style="left:60.5px;top:88px;width:8px;height:1.6px;background:#5d7097;"></i><i style="left:69.5px;top:88px;width:10px;height:1.6px;background:#5d7097;"></i><i style="left:17.0px;top:97.4px;width:5px;height:1.7px;background:#9a4d66;"></i><i style="left:17.0px;top:101.80000000000001px;width:5px;height:1.4px;background:#42557c;"></i><i style="left:35.0px;top:97.4px;width:5px;height:1.7px;background:#9a4d66;"></i><i style="left:55.0px;top:97.4px;width:5px;height:1.7px;background:#8ea3c8;"></i><i style="left:55.0px;top:101.80000000000001px;width:5px;height:1.4px;background:#42557c;"></i><i style="left:72.0px;top:97.4px;width:5px;height:1.7px;background:#8ea3c8;"></i><i style="left:17.0px;top:108.7px;width:5px;height:1.7px;background:#2f9a7e;"></i><i style="left:17.0px;top:113.10000000000001px;width:5px;height:1.4px;background:#42557c;"></i><i style="left:35.0px;top:108.7px;width:5px;height:1.7px;background:#2f9a7e;"></i><i style="left:55.0px;top:108.7px;width:5px;height:1.7px;background:#555f80;"></i><i style="left:55.0px;top:113.10000000000001px;width:5px;height:1.4px;background:#42557c;"></i><i style="left:72.0px;top:108.7px;width:5px;height:1.7px;background:#2a7fd8;"></i><i style="left:11.0px;top:120.4px;width:14px;height:1.8px;background:#b9c7e6;"></i><i style="left:11.0px;top:125.3px;width:30px;height:1.5px;background:#5d7097;"></i><i style="left:72.5px;top:121.5px;width:9px;height:9px;background:conic-gradient(#2d8cf0 0 50%,#15264d 50% 100%);border-radius:50%"></i><i style="left:73.8px;top:122.8px;width:6.4px;height:6.4px;background:#0d1a3b;border-radius:50%"></i><i style="left:11.0px;top:140.5px;width:10px;height:1.6px;background:#8ea3c8;"></i><i style="left:11.0px;top:148px;width:22px;height:1.5px;background:#5d7097;"></i><i style="left:49.5px;top:148px;width:10px;height:1.5px;background:#5d7097;"></i><i style="left:69.5px;top:148px;width:9px;height:1.5px;background:#3aa070;"></i><i style="left:93.5px;top:65.5px;width:80.5px;height:85px;background:rgba(22,50,110,0.25);border:0.7px solid rgba(40,100,200,0.5);border-radius:4px;box-shadow:inset 0 0 5px rgba(40,100,220,0.18)"></i><i style="left:97.0px;top:71.8px;width:10px;height:10px;background:#36c07a;border-radius:50%"></i><i style="left:99.8px;top:74.6px;width:4.4px;height:4.4px;background:transparent;border:0.8px solid rgba(255,255,255,0.8);border-radius:1px"></i><i style="left:109.5px;top:72.6px;width:22px;height:1.8px;background:#c9d5ef;"></i><i style="left:109.5px;top:77.6px;width:7px;height:2.6px;background:#21513f;"></i><i style="left:118.5px;top:78px;width:24px;height:1.6px;background:#42557c;"></i><i style="left:157.0px;top:76.5px;width:14px;height:4.2px;background:#2f6fe8;"></i><i style="left:159.0px;top:78px;width:10px;height:1.3px;background:#a9c6ff;"></i><i style="left:97.0px;top:88px;width:11px;height:1.8px;background:#8ea3c8;"></i><i style="left:146.5px;top:88px;width:8px;height:1.6px;background:#5d7097;"></i><i style="left:155.5px;top:88px;width:10px;height:1.6px;background:#5d7097;"></i><i style="left:103.0px;top:97.4px;width:5px;height:1.7px;background:#9a4d66;"></i><i style="left:103.0px;top:101.80000000000001px;width:5px;height:1.4px;background:#42557c;"></i><i style="left:121.0px;top:97.4px;width:5px;height:1.7px;background:#9a4d66;"></i><i style="left:141.0px;top:97.4px;width:5px;height:1.7px;background:#8ea3c8;"></i><i style="left:141.0px;top:101.80000000000001px;width:5px;height:1.4px;background:#42557c;"></i><i style="left:158.0px;top:97.4px;width:5px;height:1.7px;background:#8ea3c8;"></i><i style="left:103.0px;top:108.7px;width:5px;height:1.7px;background:#2f9a7e;"></i><i style="left:103.0px;top:113.10000000000001px;width:5px;height:1.4px;background:#42557c;"></i><i style="left:121.0px;top:108.7px;width:5px;height:1.7px;background:#2f9a7e;"></i><i style="left:141.0px;top:108.7px;width:5px;height:1.7px;background:#555f80;"></i><i style="left:141.0px;top:113.10000000000001px;width:5px;height:1.4px;background:#42557c;"></i><i style="left:158.0px;top:108.7px;width:5px;height:1.7px;background:#2a7fd8;"></i><i style="left:97.0px;top:120.4px;width:14px;height:1.8px;background:#b9c7e6;"></i><i style="left:97.0px;top:125.3px;width:30px;height:1.5px;background:#5d7097;"></i><i style="left:158.5px;top:121.5px;width:9px;height:9px;background:conic-gradient(#2d8cf0 0 50%,#15264d 50% 100%);border-radius:50%"></i><i style="left:159.8px;top:122.8px;width:6.4px;height:6.4px;background:#0d1a3b;border-radius:50%"></i><i style="left:97.0px;top:140.5px;width:10px;height:1.6px;background:#8ea3c8;"></i><i style="left:97.0px;top:148px;width:22px;height:1.5px;background:#5d7097;"></i><i style="left:135.5px;top:148px;width:10px;height:1.5px;background:#5d7097;"></i><i style="left:155.5px;top:148px;width:9px;height:1.5px;background:#3aa070;"></i><i style="left:180px;top:65.5px;width:80.5px;height:85px;background:rgba(22,50,110,0.25);border:0.7px solid rgba(40,100,200,0.5);border-radius:4px;box-shadow:inset 0 0 5px rgba(40,100,220,0.18)"></i><i style="left:183.5px;top:71.8px;width:10px;height:10px;background:#7d8598;border-radius:50%"></i><i style="left:186.3px;top:74.6px;width:4.4px;height:4.4px;background:transparent;border:0.8px solid rgba(255,255,255,0.8);border-radius:1px"></i><i style="left:196px;top:72.6px;width:22px;height:1.8px;background:#c9d5ef;"></i><i style="left:196px;top:77.6px;width:7px;height:2.6px;background:#3a4255;"></i><i style="left:205px;top:78px;width:24px;height:1.6px;background:#42557c;"></i><i style="left:243.5px;top:76.5px;width:14px;height:4.2px;background:#233f74;"></i><i style="left:245.5px;top:78px;width:10px;height:1.3px;background:#a9c6ff;"></i><i style="left:183.5px;top:88px;width:11px;height:1.8px;background:#8ea3c8;"></i><i style="left:233px;top:88px;width:8px;height:1.6px;background:#5d7097;"></i><i style="left:242px;top:88px;width:10px;height:1.6px;background:#5d7097;"></i><i style="left:189.5px;top:97.4px;width:5px;height:1.7px;background:#9a4d66;"></i><i style="left:189.5px;top:101.80000000000001px;width:5px;height:1.4px;background:#42557c;"></i><i style="left:207.5px;top:97.4px;width:5px;height:1.7px;background:#9a4d66;"></i><i style="left:227.5px;top:97.4px;width:5px;height:1.7px;background:#8ea3c8;"></i><i style="left:227.5px;top:101.80000000000001px;width:5px;height:1.4px;background:#42557c;"></i><i style="left:244.5px;top:97.4px;width:5px;height:1.7px;background:#8ea3c8;"></i><i style="left:189.5px;top:108.7px;width:5px;height:1.7px;background:#2f9a7e;"></i><i style="left:189.5px;top:113.10000000000001px;width:5px;height:1.4px;background:#42557c;"></i><i style="left:207.5px;top:108.7px;width:5px;height:1.7px;background:#2f9a7e;"></i><i style="left:227.5px;top:108.7px;width:5px;height:1.7px;background:#555f80;"></i><i style="left:227.5px;top:113.10000000000001px;width:5px;height:1.4px;background:#42557c;"></i><i style="left:244.5px;top:108.7px;width:5px;height:1.7px;background:#2a7fd8;"></i><i style="left:183.5px;top:120.4px;width:14px;height:1.8px;background:#b9c7e6;"></i><i style="left:183.5px;top:125.3px;width:30px;height:1.5px;background:#5d7097;"></i><i style="left:245px;top:121.5px;width:9px;height:9px;background:conic-gradient(#2d8cf0 0 50%,#15264d 50% 100%);border-radius:50%"></i><i style="left:246.3px;top:122.8px;width:6.4px;height:6.4px;background:#0d1a3b;border-radius:50%"></i><i style="left:183.5px;top:140.5px;width:10px;height:1.6px;background:#8ea3c8;"></i><i style="left:183.5px;top:148px;width:22px;height:1.5px;background:#5d7097;"></i><i style="left:222px;top:148px;width:10px;height:1.5px;background:#5d7097;"></i><i style="left:242px;top:148px;width:9px;height:1.5px;background:#2a7fd8;"></i></div>
<div class="shot" style="left:144px;top:390px;width:267px;height:151px;border-radius:3px"><i style="left:0px;top:0px;width:267px;height:151px;background:#ffffff;"></i><i style="left:0px;top:0px;width:28.5px;height:151px;background:#1f2433;border-radius:3px 0 0 3px"></i><i style="left:4px;top:2px;width:3px;height:3px;background:#6a8cf0;"></i><i style="left:8.5px;top:2.2px;width:16px;height:1.5px;background:#9aa2b8;"></i><i style="left:8.5px;top:4.6px;width:14px;height:0.8px;background:#5f677a;"></i><i style="left:3px;top:4px;width:7px;height:1.3px;background:#525a6e;"></i><i style="left:7px;top:10px;width:3px;height:2px;background:#5f677a;"></i><i style="left:11.5px;top:10px;width:10px;height:1.4px;background:#6f7789;"></i><i style="left:3px;top:16px;width:7px;height:1.3px;background:#525a6e;"></i><i style="left:7px;top:22px;width:3px;height:2px;background:#5f677a;"></i><i style="left:11.5px;top:22px;width:10px;height:1.4px;background:#6f7789;"></i><i style="left:1px;top:26.2px;width:27px;height:5px;background:#2b3143;"></i><i style="left:11px;top:28px;width:13px;height:1.5px;background:#b9c0d2;"></i><i style="left:11px;top:33.7px;width:12px;height:1.4px;background:#6f7789;"></i><i style="left:7px;top:39.7px;width:3px;height:2px;background:#5f677a;"></i><i style="left:11.5px;top:39.7px;width:10px;height:1.4px;background:#6f7789;"></i><i style="left:7px;top:45.7px;width:3px;height:2px;background:#5f677a;"></i><i style="left:11.5px;top:45.7px;width:10px;height:1.4px;background:#6f7789;"></i><i style="left:7px;top:52px;width:3px;height:2px;background:#5f677a;"></i><i style="left:11.5px;top:52px;width:10px;height:1.4px;background:#6f7789;"></i><i style="left:7px;top:58.3px;width:3px;height:2px;background:#5f677a;"></i><i style="left:11.5px;top:58.3px;width:10px;height:1.4px;background:#6f7789;"></i><i style="left:7px;top:64.7px;width:3px;height:2px;background:#5f677a;"></i><i style="left:11.5px;top:64.7px;width:10px;height:1.4px;background:#6f7789;"></i><i style="left:3px;top:70.7px;width:7px;height:1.3px;background:#525a6e;"></i><i style="left:7px;top:77px;width:3px;height:2px;background:#5f677a;"></i><i style="left:11.5px;top:77px;width:10px;height:1.4px;background:#6f7789;"></i><i style="left:7px;top:83px;width:3px;height:2px;background:#5f677a;"></i><i style="left:11.5px;top:83px;width:10px;height:1.4px;background:#6f7789;"></i><i style="left:7px;top:89px;width:3px;height:2px;background:#5f677a;"></i><i style="left:11.5px;top:89px;width:10px;height:1.4px;background:#6f7789;"></i><i style="left:7px;top:95px;width:3px;height:2px;background:#5f677a;"></i><i style="left:11.5px;top:95px;width:10px;height:1.4px;background:#6f7789;"></i><i style="left:3px;top:101px;width:7px;height:1.3px;background:#525a6e;"></i><i style="left:7px;top:107px;width:3px;height:2px;background:#5f677a;"></i><i style="left:11.5px;top:107px;width:10px;height:1.4px;background:#6f7789;"></i><i style="left:28.5px;top:0px;width:238.5px;height:8px;background:#ffffff;"></i><i style="left:31px;top:3px;width:9px;height:1.4px;background:#8c93a6;"></i><i style="left:41px;top:3px;width:12px;height:1.4px;background:#8c93a6;"></i><i style="left:251px;top:3px;width:14px;height:1.4px;background:#a5abb8;"></i><i style="left:28.5px;top:8px;width:238.5px;height:0.6px;background:#eceef3;"></i><i style="left:30px;top:9px;width:235px;height:17px;background:linear-gradient(90deg,#3b66e8,#4262e4 60%,#4a5de0);"></i><i style="left:34px;top:12px;width:14px;height:1.6px;background:#dfe9ff;"></i><i style="left:34px;top:16px;width:64px;height:1.3px;background:#c3d6ff;"></i><i style="left:100px;top:16px;width:40px;height:1.3px;background:#c3d6ff;"></i><i style="left:34px;top:19.5px;width:60px;height:1.3px;background:#c3d6ff;"></i><svg style="position:absolute;left:0;top:0" width="267" height="151"><polygon points="242,14 250,18 250,26 242,26" fill="#eef3ff" opacity="0.9"/><polygon points="250,10 258,14 258,24 250,20" fill="#c9e8f8" opacity="0.9"/><polygon points="250,20 258,24 256,26 246,26" fill="#9fd4f0" opacity="0.8"/></svg><i style="left:30px;top:26px;width:235px;height:125px;background:#ffffff;"></i><i style="left:33px;top:31px;width:14px;height:1.6px;background:#4a505c;"></i><i style="left:215px;top:29.5px;width:34px;height:4.5px;background:#ffffff;border:0.5px solid #e1e4ea"></i><i style="left:250px;top:29.5px;width:15px;height:4.5px;background:#ffffff;border:0.5px solid #8fb3f5"></i><i style="left:33px;top:37.5px;width:9px;height:3.5px;background:#e3edfd;"></i><i style="left:34.5px;top:38.5px;width:6px;height:1.4px;background:#4a7fe0;"></i><i style="left:45px;top:38.5px;width:8px;height:1.4px;background:#8c93a6;"></i><i style="left:56px;top:38.5px;width:9px;height:1.4px;background:#8c93a6;"></i><i style="left:226px;top:41px;width:12px;height:1.4px;background:#8c93a6;"></i><i style="left:242px;top:41px;width:14px;height:1.4px;background:#8c93a6;"></i><i style="left:33.0px;top:47.5px;width:30px;height:25px;background:#f1f2f5;"></i><i style="left:39.0px;top:50.0px;width:18px;height:22px;background:#ffffff;box-shadow:0 0 1px rgba(0,0,0,0.15)"></i><i style="left:42.0px;top:55.5px;width:12px;height:0.8px;background:#d3d6dc;"></i><i style="left:42.0px;top:58.5px;width:10px;height:0.8px;background:#d3d6dc;"></i><i style="left:42.0px;top:61.5px;width:8px;height:0.8px;background:#d3d6dc;"></i><i style="left:42.0px;top:64.5px;width:12px;height:0.8px;background:#d3d6dc;"></i><i style="left:42.0px;top:67.5px;width:10px;height:0.8px;background:#d3d6dc;"></i><i style="left:33.0px;top:72.5px;width:30px;height:10px;background:#ffffff;"></i><i style="left:34.0px;top:76.5px;width:14px;height:1.6px;background:#6d7486;"></i><i style="left:34.0px;top:80.5px;width:20px;height:1.2px;background:#b3b8c4;"></i><i style="left:65.7px;top:47.5px;width:30px;height:25px;background:#f1f2f5;"></i><i style="left:71.7px;top:50.0px;width:18px;height:22px;background:#ffffff;box-shadow:0 0 1px rgba(0,0,0,0.15)"></i><i style="left:74.7px;top:55.5px;width:12px;height:0.8px;background:#d3d6dc;"></i><i style="left:74.7px;top:58.5px;width:10px;height:0.8px;background:#d3d6dc;"></i><i style="left:74.7px;top:61.5px;width:8px;height:0.8px;background:#d3d6dc;"></i><i style="left:74.7px;top:64.5px;width:12px;height:0.8px;background:#d3d6dc;"></i><i style="left:74.7px;top:67.5px;width:10px;height:0.8px;background:#d3d6dc;"></i><i style="left:65.7px;top:72.5px;width:30px;height:10px;background:#ffffff;"></i><i style="left:66.7px;top:76.5px;width:2px;height:2px;background:#e0474c;"></i><i style="left:69.7px;top:76.5px;width:14px;height:1.6px;background:#6d7486;"></i><i style="left:66.7px;top:80.5px;width:20px;height:1.2px;background:#b3b8c4;"></i><i style="left:98.4px;top:47.5px;width:30px;height:25px;background:#f1f2f5;"></i><i style="left:104.4px;top:50.0px;width:18px;height:22px;background:#ffffff;box-shadow:0 0 1px rgba(0,0,0,0.15)"></i><i style="left:107.4px;top:55.5px;width:12px;height:0.8px;background:#d3d6dc;"></i><i style="left:107.4px;top:58.5px;width:10px;height:0.8px;background:#d3d6dc;"></i><i style="left:107.4px;top:61.5px;width:8px;height:0.8px;background:#d3d6dc;"></i><i style="left:107.4px;top:64.5px;width:12px;height:0.8px;background:#d3d6dc;"></i><i style="left:107.4px;top:67.5px;width:10px;height:0.8px;background:#d3d6dc;"></i><i style="left:98.4px;top:72.5px;width:30px;height:10px;background:#ffffff;"></i><i style="left:99.4px;top:76.5px;width:2px;height:2px;background:#e0474c;"></i><i style="left:102.4px;top:76.5px;width:14px;height:1.6px;background:#6d7486;"></i><i style="left:99.4px;top:80.5px;width:20px;height:1.2px;background:#b3b8c4;"></i><i style="left:131.10000000000002px;top:47.5px;width:30px;height:25px;background:#f1f2f5;"></i><i style="left:137.10000000000002px;top:50.0px;width:18px;height:22px;background:#ffffff;box-shadow:0 0 1px rgba(0,0,0,0.15)"></i><i style="left:140.10000000000002px;top:55.5px;width:12px;height:0.8px;background:#d3d6dc;"></i><i style="left:140.10000000000002px;top:58.5px;width:10px;height:0.8px;background:#d3d6dc;"></i><i style="left:140.10000000000002px;top:61.5px;width:8px;height:0.8px;background:#d3d6dc;"></i><i style="left:140.10000000000002px;top:64.5px;width:12px;height:0.8px;background:#d3d6dc;"></i><i style="left:140.10000000000002px;top:67.5px;width:10px;height:0.8px;background:#d3d6dc;"></i><i style="left:131.10000000000002px;top:72.5px;width:30px;height:10px;background:#ffffff;"></i><i style="left:132.10000000000002px;top:76.5px;width:2px;height:2px;background:#e0474c;"></i><i style="left:135.10000000000002px;top:76.5px;width:14px;height:1.6px;background:#6d7486;"></i><i style="left:132.10000000000002px;top:80.5px;width:20px;height:1.2px;background:#b3b8c4;"></i><i style="left:163.8px;top:47.5px;width:30px;height:25px;background:#f1f2f5;"></i><i style="left:169.8px;top:50.0px;width:18px;height:22px;background:#ffffff;box-shadow:0 0 1px rgba(0,0,0,0.15)"></i><i style="left:172.8px;top:55.5px;width:12px;height:0.8px;background:#d3d6dc;"></i><i style="left:172.8px;top:58.5px;width:10px;height:0.8px;background:#d3d6dc;"></i><i style="left:172.8px;top:61.5px;width:8px;height:0.8px;background:#d3d6dc;"></i><i style="left:172.8px;top:64.5px;width:12px;height:0.8px;background:#d3d6dc;"></i><i style="left:172.8px;top:67.5px;width:10px;height:0.8px;background:#d3d6dc;"></i><i style="left:163.8px;top:72.5px;width:30px;height:10px;background:#ffffff;"></i><i style="left:164.8px;top:76.5px;width:2px;height:2px;background:#e0474c;"></i><i style="left:167.8px;top:76.5px;width:14px;height:1.6px;background:#6d7486;"></i><i style="left:164.8px;top:80.5px;width:20px;height:1.2px;background:#b3b8c4;"></i><i style="left:196.5px;top:47.5px;width:30px;height:25px;background:#f1f2f5;"></i><i style="left:202.5px;top:50.0px;width:18px;height:22px;background:#ffffff;box-shadow:0 0 1px rgba(0,0,0,0.15)"></i><i style="left:205.5px;top:55.5px;width:12px;height:0.8px;background:#d3d6dc;"></i><i style="left:205.5px;top:58.5px;width:10px;height:0.8px;background:#d3d6dc;"></i><i style="left:205.5px;top:61.5px;width:8px;height:0.8px;background:#d3d6dc;"></i><i style="left:205.5px;top:64.5px;width:12px;height:0.8px;background:#d3d6dc;"></i><i style="left:205.5px;top:67.5px;width:10px;height:0.8px;background:#d3d6dc;"></i><i style="left:196.5px;top:72.5px;width:30px;height:10px;background:#ffffff;"></i><i style="left:197.5px;top:76.5px;width:2px;height:2px;background:#e0474c;"></i><i style="left:200.5px;top:76.5px;width:14px;height:1.6px;background:#6d7486;"></i><i style="left:197.5px;top:80.5px;width:20px;height:1.2px;background:#b3b8c4;"></i><i style="left:229.20000000000002px;top:47.5px;width:30px;height:25px;background:#f1f2f5;"></i><i style="left:235.20000000000002px;top:50.0px;width:18px;height:22px;background:#ffffff;box-shadow:0 0 1px rgba(0,0,0,0.15)"></i><i style="left:238.20000000000002px;top:55.5px;width:12px;height:0.8px;background:#d3d6dc;"></i><i style="left:238.20000000000002px;top:58.5px;width:10px;height:0.8px;background:#d3d6dc;"></i><i style="left:238.20000000000002px;top:61.5px;width:8px;height:0.8px;background:#d3d6dc;"></i><i style="left:238.20000000000002px;top:64.5px;width:12px;height:0.8px;background:#d3d6dc;"></i><i style="left:238.20000000000002px;top:67.5px;width:10px;height:0.8px;background:#d3d6dc;"></i><i style="left:229.20000000000002px;top:72.5px;width:30px;height:10px;background:#ffffff;"></i><i style="left:230.20000000000002px;top:76.5px;width:2px;height:2px;background:#e0474c;"></i><i style="left:233.20000000000002px;top:76.5px;width:14px;height:1.6px;background:#6d7486;"></i><i style="left:230.20000000000002px;top:80.5px;width:20px;height:1.2px;background:#b3b8c4;"></i><i style="left:33.0px;top:86px;width:30px;height:25px;background:#f1f2f5;"></i><i style="left:39.0px;top:88.5px;width:18px;height:22px;background:#ffffff;box-shadow:0 0 1px rgba(0,0,0,0.15)"></i><i style="left:42.0px;top:94px;width:12px;height:0.8px;background:#d3d6dc;"></i><i style="left:42.0px;top:97px;width:10px;height:0.8px;background:#d3d6dc;"></i><i style="left:42.0px;top:100px;width:8px;height:0.8px;background:#d3d6dc;"></i><i style="left:42.0px;top:103px;width:12px;height:0.8px;background:#d3d6dc;"></i><i style="left:42.0px;top:106px;width:10px;height:0.8px;background:#d3d6dc;"></i><i style="left:33.0px;top:111px;width:30px;height:10px;background:#ffffff;"></i><i style="left:34.0px;top:115.0px;width:14px;height:1.6px;background:#6d7486;"></i><i style="left:34.0px;top:119.0px;width:20px;height:1.2px;background:#b3b8c4;"></i><i style="left:65.7px;top:86px;width:30px;height:25px;background:#f1f2f5;"></i><i style="left:71.7px;top:88.5px;width:18px;height:22px;background:#ffffff;box-shadow:0 0 1px rgba(0,0,0,0.15)"></i><i style="left:74.7px;top:94px;width:12px;height:0.8px;background:#d3d6dc;"></i><i style="left:74.7px;top:97px;width:10px;height:0.8px;background:#d3d6dc;"></i><i style="left:74.7px;top:100px;width:8px;height:0.8px;background:#d3d6dc;"></i><i style="left:74.7px;top:103px;width:12px;height:0.8px;background:#d3d6dc;"></i><i style="left:74.7px;top:106px;width:10px;height:0.8px;background:#d3d6dc;"></i><i style="left:65.7px;top:111px;width:30px;height:10px;background:#ffffff;"></i><i style="left:66.7px;top:115.0px;width:2px;height:2px;background:#e0474c;"></i><i style="left:69.7px;top:115.0px;width:14px;height:1.6px;background:#6d7486;"></i><i style="left:66.7px;top:119.0px;width:20px;height:1.2px;background:#b3b8c4;"></i><i style="left:98.4px;top:86px;width:30px;height:25px;background:#f1f2f5;"></i><i style="left:104.4px;top:88.5px;width:18px;height:22px;background:#ffffff;box-shadow:0 0 1px rgba(0,0,0,0.15)"></i><i style="left:107.4px;top:94px;width:12px;height:0.8px;background:#d3d6dc;"></i><i style="left:107.4px;top:97px;width:10px;height:0.8px;background:#d3d6dc;"></i><i style="left:107.4px;top:100px;width:8px;height:0.8px;background:#d3d6dc;"></i><i style="left:107.4px;top:103px;width:12px;height:0.8px;background:#d3d6dc;"></i><i style="left:107.4px;top:106px;width:10px;height:0.8px;background:#d3d6dc;"></i><i style="left:98.4px;top:111px;width:30px;height:10px;background:#ffffff;"></i><i style="left:99.4px;top:115.0px;width:14px;height:1.6px;background:#6d7486;"></i><i style="left:99.4px;top:119.0px;width:20px;height:1.2px;background:#b3b8c4;"></i><i style="left:131.10000000000002px;top:86px;width:30px;height:25px;background:#f1f2f5;"></i><i style="left:137.10000000000002px;top:88.5px;width:18px;height:22px;background:#ffffff;box-shadow:0 0 1px rgba(0,0,0,0.15)"></i><i style="left:140.10000000000002px;top:94px;width:12px;height:0.8px;background:#d3d6dc;"></i><i style="left:140.10000000000002px;top:97px;width:10px;height:0.8px;background:#d3d6dc;"></i><i style="left:140.10000000000002px;top:100px;width:8px;height:0.8px;background:#d3d6dc;"></i><i style="left:140.10000000000002px;top:103px;width:12px;height:0.8px;background:#d3d6dc;"></i><i style="left:140.10000000000002px;top:106px;width:10px;height:0.8px;background:#d3d6dc;"></i><i style="left:131.10000000000002px;top:111px;width:30px;height:10px;background:#ffffff;"></i><i style="left:132.10000000000002px;top:115.0px;width:14px;height:1.6px;background:#6d7486;"></i><i style="left:132.10000000000002px;top:119.0px;width:20px;height:1.2px;background:#b3b8c4;"></i><i style="left:163.8px;top:86px;width:30px;height:25px;background:#f1f2f5;"></i><i style="left:169.8px;top:88.5px;width:18px;height:22px;background:#ffffff;box-shadow:0 0 1px rgba(0,0,0,0.15)"></i><i style="left:172.8px;top:94px;width:12px;height:0.8px;background:#d3d6dc;"></i><i style="left:172.8px;top:97px;width:10px;height:0.8px;background:#d3d6dc;"></i><i style="left:172.8px;top:100px;width:8px;height:0.8px;background:#d3d6dc;"></i><i style="left:172.8px;top:103px;width:12px;height:0.8px;background:#d3d6dc;"></i><i style="left:172.8px;top:106px;width:10px;height:0.8px;background:#d3d6dc;"></i><i style="left:163.8px;top:111px;width:30px;height:10px;background:#ffffff;"></i><i style="left:164.8px;top:115.0px;width:14px;height:1.6px;background:#6d7486;"></i><i style="left:164.8px;top:119.0px;width:20px;height:1.2px;background:#b3b8c4;"></i><i style="left:196.5px;top:86px;width:30px;height:25px;background:#f1f2f5;"></i><i style="left:202.5px;top:88.5px;width:18px;height:22px;background:#ffffff;box-shadow:0 0 1px rgba(0,0,0,0.15)"></i><i style="left:205.5px;top:94px;width:12px;height:0.8px;background:#d3d6dc;"></i><i style="left:205.5px;top:97px;width:10px;height:0.8px;background:#d3d6dc;"></i><i style="left:205.5px;top:100px;width:8px;height:0.8px;background:#d3d6dc;"></i><i style="left:205.5px;top:103px;width:12px;height:0.8px;background:#d3d6dc;"></i><i style="left:205.5px;top:106px;width:10px;height:0.8px;background:#d3d6dc;"></i><i style="left:196.5px;top:111px;width:30px;height:10px;background:#ffffff;"></i><i style="left:197.5px;top:115.0px;width:14px;height:1.6px;background:#6d7486;"></i><i style="left:197.5px;top:119.0px;width:20px;height:1.2px;background:#b3b8c4;"></i><i style="left:229.20000000000002px;top:86px;width:30px;height:25px;background:#f1f2f5;"></i><i style="left:235.20000000000002px;top:88.5px;width:18px;height:22px;background:#ffffff;box-shadow:0 0 1px rgba(0,0,0,0.15)"></i><i style="left:238.20000000000002px;top:94px;width:12px;height:0.8px;background:#d3d6dc;"></i><i style="left:238.20000000000002px;top:97px;width:10px;height:0.8px;background:#d3d6dc;"></i><i style="left:238.20000000000002px;top:100px;width:8px;height:0.8px;background:#d3d6dc;"></i><i style="left:238.20000000000002px;top:103px;width:12px;height:0.8px;background:#d3d6dc;"></i><i style="left:238.20000000000002px;top:106px;width:10px;height:0.8px;background:#d3d6dc;"></i><i style="left:229.20000000000002px;top:111px;width:30px;height:10px;background:#ffffff;"></i><i style="left:230.20000000000002px;top:115.0px;width:14px;height:1.6px;background:#6d7486;"></i><i style="left:230.20000000000002px;top:119.0px;width:20px;height:1.2px;background:#b3b8c4;"></i><i style="left:33.0px;top:124.7px;width:30px;height:27px;background:#f1f2f5;"></i><i style="left:39.0px;top:127.2px;width:18px;height:24px;background:#ffffff;box-shadow:0 0 1px rgba(0,0,0,0.15)"></i><i style="left:42.0px;top:132.7px;width:12px;height:0.8px;background:#d3d6dc;"></i><i style="left:42.0px;top:135.7px;width:10px;height:0.8px;background:#d3d6dc;"></i><i style="left:42.0px;top:138.7px;width:8px;height:0.8px;background:#d3d6dc;"></i><i style="left:42.0px;top:141.7px;width:12px;height:0.8px;background:#d3d6dc;"></i><i style="left:42.0px;top:144.7px;width:10px;height:0.8px;background:#d3d6dc;"></i><i style="left:65.7px;top:124.7px;width:30px;height:27px;background:#f1f2f5;"></i><i style="left:71.7px;top:127.2px;width:18px;height:24px;background:#ffffff;box-shadow:0 0 1px rgba(0,0,0,0.15)"></i><i style="left:74.7px;top:132.7px;width:12px;height:0.8px;background:#d3d6dc;"></i><i style="left:74.7px;top:135.7px;width:10px;height:0.8px;background:#d3d6dc;"></i><i style="left:74.7px;top:138.7px;width:8px;height:0.8px;background:#d3d6dc;"></i><i style="left:74.7px;top:141.7px;width:12px;height:0.8px;background:#d3d6dc;"></i><i style="left:74.7px;top:144.7px;width:10px;height:0.8px;background:#d3d6dc;"></i><i style="left:98.4px;top:124.7px;width:30px;height:27px;background:#f1f2f5;"></i><i style="left:104.4px;top:127.2px;width:18px;height:24px;background:#ffffff;box-shadow:0 0 1px rgba(0,0,0,0.15)"></i><i style="left:107.4px;top:132.7px;width:12px;height:0.8px;background:#d3d6dc;"></i><i style="left:107.4px;top:135.7px;width:10px;height:0.8px;background:#d3d6dc;"></i><i style="left:107.4px;top:138.7px;width:8px;height:0.8px;background:#d3d6dc;"></i><i style="left:107.4px;top:141.7px;width:12px;height:0.8px;background:#d3d6dc;"></i><i style="left:107.4px;top:144.7px;width:10px;height:0.8px;background:#d3d6dc;"></i><i style="left:131.10000000000002px;top:124.7px;width:30px;height:27px;background:#f1f2f5;"></i><i style="left:137.10000000000002px;top:127.2px;width:18px;height:24px;background:#ffffff;box-shadow:0 0 1px rgba(0,0,0,0.15)"></i><i style="left:140.10000000000002px;top:132.7px;width:12px;height:0.8px;background:#d3d6dc;"></i><i style="left:140.10000000000002px;top:135.7px;width:10px;height:0.8px;background:#d3d6dc;"></i><i style="left:140.10000000000002px;top:138.7px;width:8px;height:0.8px;background:#d3d6dc;"></i><i style="left:140.10000000000002px;top:141.7px;width:12px;height:0.8px;background:#d3d6dc;"></i><i style="left:140.10000000000002px;top:144.7px;width:10px;height:0.8px;background:#d3d6dc;"></i><i style="left:163.8px;top:124.7px;width:30px;height:27px;background:#f1f2f5;"></i><i style="left:169.8px;top:127.2px;width:18px;height:24px;background:#ffffff;box-shadow:0 0 1px rgba(0,0,0,0.15)"></i><i style="left:172.8px;top:132.7px;width:12px;height:0.8px;background:#d3d6dc;"></i><i style="left:172.8px;top:135.7px;width:10px;height:0.8px;background:#d3d6dc;"></i><i style="left:172.8px;top:138.7px;width:8px;height:0.8px;background:#d3d6dc;"></i><i style="left:172.8px;top:141.7px;width:12px;height:0.8px;background:#d3d6dc;"></i><i style="left:172.8px;top:144.7px;width:10px;height:0.8px;background:#d3d6dc;"></i><i style="left:196.5px;top:124.7px;width:30px;height:27px;background:#f1f2f5;"></i><i style="left:202.5px;top:127.2px;width:18px;height:24px;background:#ffffff;box-shadow:0 0 1px rgba(0,0,0,0.15)"></i><i style="left:205.5px;top:132.7px;width:12px;height:0.8px;background:#d3d6dc;"></i><i style="left:205.5px;top:135.7px;width:10px;height:0.8px;background:#d3d6dc;"></i><i style="left:205.5px;top:138.7px;width:8px;height:0.8px;background:#d3d6dc;"></i><i style="left:205.5px;top:141.7px;width:12px;height:0.8px;background:#d3d6dc;"></i><i style="left:205.5px;top:144.7px;width:10px;height:0.8px;background:#d3d6dc;"></i><i style="left:229.20000000000002px;top:124.7px;width:30px;height:27px;background:#f1f2f5;"></i><i style="left:235.20000000000002px;top:127.2px;width:18px;height:24px;background:#ffffff;box-shadow:0 0 1px rgba(0,0,0,0.15)"></i><i style="left:238.20000000000002px;top:132.7px;width:12px;height:0.8px;background:#d3d6dc;"></i><i style="left:238.20000000000002px;top:135.7px;width:10px;height:0.8px;background:#d3d6dc;"></i><i style="left:238.20000000000002px;top:138.7px;width:8px;height:0.8px;background:#d3d6dc;"></i><i style="left:238.20000000000002px;top:141.7px;width:12px;height:0.8px;background:#d3d6dc;"></i><i style="left:238.20000000000002px;top:144.7px;width:10px;height:0.8px;background:#d3d6dc;"></i><i style="left:42px;top:50px;width:15px;height:5.5px;background:#f2c049;"></i><i style="left:78px;top:52px;width:4px;height:4px;background:#d8363b;border-radius:50%"></i><i style="left:237px;top:89px;width:17px;height:21px;background:transparent;border:1.2px solid #e0a33c"></i><i style="left:107px;top:92px;width:13px;height:16px;background:#d8e8fb;"></i><i style="left:179px;top:144px;width:7px;height:4.5px;background:#d62e2e;"></i><i style="left:266px;top:0px;width:1px;height:151px;background:#e6e8ee;"></i></div>
<div class="shot" style="left:1021px;top:387px;width:267px;height:158px;border-radius:3px"><i style="left:0px;top:0px;width:267px;height:158px;background:#ffffff;"></i><i style="left:0px;top:0px;width:18.7px;height:158px;background:#1e78ef;border-radius:3px 0 0 3px"></i><i style="left:8.5px;top:11px;width:4.5px;height:4px;background:transparent;border:0.9px solid #fff;border-top:none"></i><i style="left:8px;top:8.5px;width:5.5px;height:3px;background:#fff;clip-path:polygon(50% 0,100% 100%,0 100%)"></i><i style="left:8px;top:19.5px;width:6px;height:1.3px;background:#cfe2ff;"></i><i style="left:8px;top:28px;width:5.5px;height:5.5px;background:transparent;border:0.9px solid #fff;border-radius:50%"></i><i style="left:8px;top:36.5px;width:6px;height:1.3px;background:#cfe2ff;"></i><i style="left:3px;top:141px;width:13px;height:1.4px;background:#dbe8ff;"></i><i style="left:3px;top:145px;width:13px;height:4px;background:transparent;border:0.6px solid #dbe8ff"></i><i style="left:25.5px;top:3px;width:5px;height:5px;background:#39b54a;border-radius:50%"></i><i style="left:31.5px;top:4.8px;width:10px;height:1.5px;background:#a3a8b1;"></i><i style="left:53.5px;top:3px;width:15px;height:5px;background:#dff3e2;border-radius:1px"></i><i style="left:57px;top:4.8px;width:7px;height:1.3px;background:#8fcf9a;"></i><i style="left:223.8px;top:5px;width:3px;height:1.2px;background:#a3a8b1;"></i><i style="left:236.6px;top:5px;width:3px;height:1.2px;background:#a3a8b1;"></i><i style="left:248.5px;top:5px;width:3px;height:1.2px;background:#a3a8b1;"></i><i style="left:260.4px;top:5px;width:3px;height:1.2px;background:#a3a8b1;"></i><i style="left:25px;top:15.5px;width:230px;height:10.5px;background:#f3f4f7;border-radius:2px"></i><i style="left:31px;top:18.5px;width:3px;height:4px;background:transparent;border:0.7px solid #5b8de8"></i><i style="left:36px;top:19.8px;width:10px;height:1.6px;background:#6a707b;"></i><i style="left:246px;top:20px;width:3px;height:1.5px;background:#9aa0aa;"></i><i style="left:32px;top:33.8px;width:13px;height:1.3px;background:#c2c6ce;"></i><i style="left:128px;top:33.8px;width:13px;height:1.3px;background:#c2c6ce;"></i><i style="left:224px;top:33.8px;width:5px;height:1.3px;background:#c2c6ce;"></i><i style="left:32px;top:47.2px;width:9px;height:1.7px;background:#7a808a;"></i><i style="left:128px;top:47.2px;width:8px;height:1.7px;background:#7a808a;"></i><i style="left:223.5px;top:46.2px;width:3px;height:4px;background:#2d78ef;clip-path:polygon(0 0,100% 50%,0 100%)"></i><i style="left:32px;top:60.050000000000004px;width:12px;height:1.7px;background:#7a808a;"></i><i style="left:128px;top:60.050000000000004px;width:9px;height:1.7px;background:#7a808a;"></i><i style="left:223.5px;top:59.050000000000004px;width:3px;height:4px;background:#2d78ef;clip-path:polygon(0 0,100% 50%,0 100%)"></i><i style="left:32px;top:72.9px;width:14px;height:1.7px;background:#7a808a;"></i><i style="left:128px;top:72.9px;width:24px;height:1.7px;background:#7a808a;"></i><i style="left:223.5px;top:71.9px;width:3px;height:4px;background:#2d78ef;clip-path:polygon(0 0,100% 50%,0 100%)"></i><i style="left:32px;top:85.75px;width:11px;height:1.7px;background:#7a808a;"></i><i style="left:128px;top:85.75px;width:18px;height:1.7px;background:#7a808a;"></i><i style="left:223.5px;top:84.75px;width:3px;height:4px;background:#2d78ef;clip-path:polygon(0 0,100% 50%,0 100%)"></i><i style="left:32px;top:98.6px;width:9px;height:1.7px;background:#7a808a;"></i><i style="left:128px;top:98.6px;width:8px;height:1.7px;background:#7a808a;"></i><i style="left:223.5px;top:97.6px;width:3px;height:4px;background:#2d78ef;clip-path:polygon(0 0,100% 50%,0 100%)"></i><i style="left:25px;top:119.5px;width:230px;height:10.5px;background:#f3f4f7;border-radius:2px"></i><i style="left:31px;top:122.5px;width:4px;height:4px;background:transparent;border:0.7px solid #5b8de8"></i><i style="left:37px;top:123.8px;width:10px;height:1.6px;background:#6a707b;"></i><i style="left:246px;top:124px;width:3px;height:1.5px;background:#9aa0aa;"></i><i style="left:32px;top:137.3px;width:13px;height:1.3px;background:#c2c6ce;"></i><i style="left:80.9px;top:137.3px;width:12px;height:1.3px;background:#c2c6ce;"></i><i style="left:128px;top:137.3px;width:12px;height:1.3px;background:#c2c6ce;"></i><i style="left:169px;top:137.3px;width:10px;height:1.3px;background:#c2c6ce;"></i><i style="left:210px;top:137.3px;width:5px;height:1.3px;background:#c2c6ce;"></i><i style="left:32px;top:151px;width:9px;height:1.7px;background:#7a808a;"></i><i style="left:80.9px;top:151px;width:12px;height:1.7px;background:#7a808a;"></i><i style="left:128px;top:151px;width:26px;height:1.7px;background:#9aa0aa;"></i><i style="left:168.5px;top:148.5px;width:19px;height:6px;background:#d9f2dd;border-radius:3px"></i><i style="left:173.5px;top:150.8px;width:9px;height:1.5px;background:#3aa357;"></i><i style="left:210px;top:151px;width:8px;height:1.7px;background:#3b82f0;"></i><i style="left:219px;top:151px;width:5px;height:1.7px;background:#8ab4f8;"></i><i style="left:257.5px;top:13px;width:3px;height:145px;background:#eeeff2;"></i><i style="left:257.6px;top:17.3px;width:2.8px;height:129.5px;background:#c9cbd1;border-radius:1.5px"></i><i style="left:266px;top:0px;width:1px;height:158px;background:#e8e9ed;"></i></div>
</body>
</html>
